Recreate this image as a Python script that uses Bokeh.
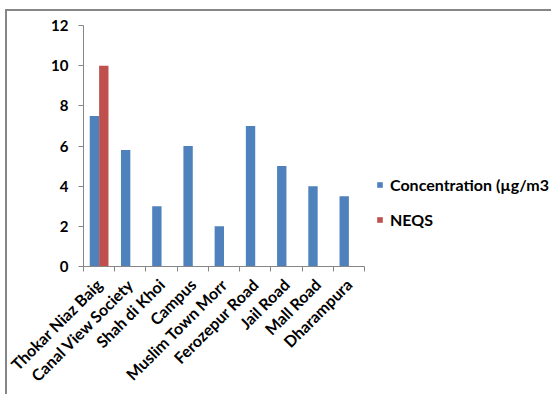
from bokeh.plotting import figure
from bokeh.models import (Range1d, FixedTicker, Legend, LegendItem, ColumnDataSource)
from bokeh.embed import file_html
from bokeh.resources import INLINE
import math

# Monitoring sites and measured values
sites = ["Thokar Niaz Baig", "Canal View Society", "Shah di Khoi", "Campus",
         "Muslim Town Morr", "Ferozepur Road", "Jail Road", "Mall Road", "Dharampura"]
concentration = [7.5, 5.8, 3.0, 6.0, 2.0, 7.0, 5.0, 4.0, 3.5]
neqs_sites = ["Thokar Niaz Baig"]
neqs = [10.0]
y_ticks = [0, 2, 4, 6, 8, 10, 12]

BLUE = "#4F81BD"
RED = "#C0504D"
AXIS = "#868686"
FONT = "Lato"

W, H = 551, 394
LEFT, TOP, BOTTOM = 83, 25, 128
AXIS_PX = 281                      # drawn length of the category axis
n = len(sites)
frame_px = W - LEFT
x_end = n * frame_px / AXIS_PX     # frame continues to the right for the legend

centers = [i + 0.5 for i in range(n)]
conc_src = ColumnDataSource(dict(x=[c - 0.15 for c in centers], top=concentration))
neqs_src = ColumnDataSource(dict(
    x=[centers[sites.index(s)] + 0.15 for s in neqs_sites], top=neqs))

p = figure(width=W, height=H, output_backend="svg", toolbar_location=None,
           x_range=Range1d(0, x_end), y_range=Range1d(0, 12),
           min_border_left=LEFT, min_border_right=0,
           min_border_top=TOP, min_border_bottom=BOTTOM)
p.background_fill_alpha = 0
p.border_fill_alpha = 0
p.outline_line_color = None
p.xgrid.visible = False
p.ygrid.visible = False

# chart area border (top and left edges) painted behind the transparent canvas
p.styles = {
    "background": ("linear-gradient(#868686, #868686) 5px 9px / 100% 2px no-repeat, "
                   "linear-gradient(#868686, #868686) 5px 9px / 2px 100% no-repeat, white"),
}

r1 = p.vbar(x="x", top="top", width=0.3, source=conc_src, fill_color=BLUE, line_color=None)
r2 = p.vbar(x="x", top="top", width=0.3, source=neqs_src, fill_color=RED, line_color=None)

# y axis
ya = p.yaxis[0]
ya.ticker = FixedTicker(ticks=y_ticks)
ya.axis_line_color = AXIS
ya.major_tick_line_color = AXIS
ya.major_tick_out = 5
ya.major_tick_in = 0
ya.minor_tick_line_color = None
ya.major_label_standoff = 10
ya.major_label_text_font = FONT
ya.major_label_text_font_style = "bold"
ya.major_label_text_font_size = "15px"
ya.major_label_text_color = "black"

# x axis: labels at category centres, tick marks at category boundaries
xa = p.xaxis[0]
xa.bounds = (0, n)
xa.ticker = FixedTicker(ticks=centers, minor_ticks=list(range(n + 1)))
xa.major_label_overrides = {c: s for c, s in zip(centers, sites)}
xa.axis_line_color = AXIS
xa.major_tick_line_color = None
xa.minor_tick_line_color = AXIS
xa.minor_tick_out = 5
xa.minor_tick_in = 0
xa.major_label_orientation = math.pi / 4
xa.major_label_standoff = 9
xa.major_label_text_font = FONT
xa.major_label_text_font_style = "bold"
xa.major_label_text_font_size = "16px"
xa.major_label_text_color = "black"

legend = Legend(items=[LegendItem(label="Concentration (µg/m3", renderers=[r1]),
                       LegendItem(label="NEQS", renderers=[r2])],
                location=(293, 37), orientation="vertical",
                glyph_width=7, glyph_height=7, label_height=14, label_standoff=7,
                spacing=16, padding=0, margin=0,
                border_line_color=None, background_fill_alpha=0,
                label_text_font=FONT, label_text_font_style="bold",
                label_text_font_size="16px", label_text_color="black")
p.add_layout(legend)

open("out.html", "w").write(file_html(p, INLINE))
